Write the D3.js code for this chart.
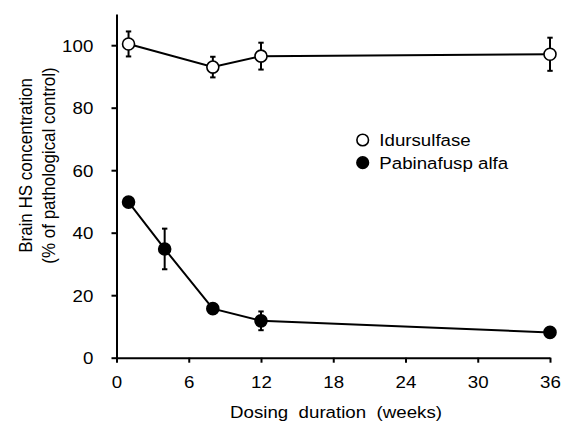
<!DOCTYPE html>
<html><head><meta charset="utf-8">
<script src="https://cdn.jsdelivr.net/npm/d3@7"></script>
<style>
html,body{margin:0;padding:0;background:#fff;}
svg{display:block;font-family:"Liberation Sans",Arial,sans-serif;}
</style></head>
<body>
<svg id="c" width="561" height="421"></svg>
<script>
// ---- data ----
const xTicks = [0, 6, 12, 18, 24, 30, 36];
const yTicks = [0, 20, 40, 60, 80, 100];
const iduWeeks = [1, 8, 12, 36];
const iduMean  = [100.4, 93.0, 96.5, 97.1];
const iduErr   = [4.0, 3.3, 4.3, 5.3];
const pabWeeks = [1, 4, 8, 12, 36];
const pabMean  = [49.8, 34.8, 15.7, 11.8, 8.1];
const pabErr   = [1.0, 6.5, 1.0, 3.0, 1.0];
const seriesNames = ["Idursulfase", "Pabinafusp alfa"];
const xTitle = "Dosing  duration  (weeks)";
const yTitle1 = "Brain HS concentration";
const yTitle2 = "(% of pathological control)";

const FS = 17, SX = 1.1;
const svg = d3.select("#c");
const x = d3.scaleLinear().domain([0, 36]).range([116.5, 550]);
const y = d3.scaleLinear().domain([0, 110]).range([357.7, 13.95]);

// axes
const gx = svg.append("g").attr("transform", `translate(0,${y(0)})`)
  .call(d3.axisBottom(x).tickValues(xTicks).tickSize(5).tickSizeOuter(0).tickFormat(d3.format("d")));
const gy = svg.append("g").attr("transform", `translate(${x(0)},0)`)
  .call(d3.axisLeft(y).tickValues(yTicks).tickSize(5).tickSizeOuter(0).tickFormat(d3.format("d")));
[gx, gy].forEach(g => {
  g.select(".domain").attr("stroke", "#000").attr("stroke-width", 2);
  g.selectAll(".tick line").attr("stroke", "#000").attr("stroke-width", 2);
  g.selectAll(".tick text").attr("fill", "#000").attr("font-size", FS)
    .attr("font-family", '"Liberation Sans",Arial,sans-serif');
});
gx.selectAll(".tick text").attr("y", 30.6).attr("dy", null)
  .attr("transform", `scale(${SX},1)`);
gy.selectAll(".tick text").attr("x", -23.2 / SX).attr("dy", "0.35em")
  .attr("transform", `scale(${SX},1)`);

// titles
svg.append("text").attr("transform", `translate(336,417.7) scale(${SX},1)`)
  .attr("text-anchor", "middle").attr("font-size", FS).style("white-space", "pre")
  .text(xTitle);
svg.append("text").attr("transform", `translate(31.5,165.5) rotate(-90) scale(1,${SX})`)
  .attr("text-anchor", "middle").attr("font-size", FS).text(yTitle1);
svg.append("text").attr("transform", `translate(55,165.5) rotate(-90) scale(1,${SX})`)
  .attr("text-anchor", "middle").attr("font-size", FS).text(yTitle2);

// series
const series = [
  {w: iduWeeks, m: iduMean, e: iduErr, fill: "#fff"},
  {w: pabWeeks, m: pabMean, e: pabErr, fill: "#000"}
];
const line = d3.line().x(d => x(d[0])).y(d => y(d[1]));
series.forEach(s => {
  const pts = s.w.map((w, i) => [w, s.m[i], s.e[i]]);
  svg.append("path").attr("d", line(pts)).attr("fill", "none")
    .attr("stroke", "#000").attr("stroke-width", 2);
  const eb = svg.append("g").attr("stroke", "#000").attr("stroke-width", 2).attr("fill", "none");
  pts.forEach(p => {
    const cx = x(p[0]), y1 = y(p[1] + p[2]), y2 = y(p[1] - p[2]);
    eb.append("line").attr("x1", cx).attr("x2", cx).attr("y1", y1).attr("y2", y2);
    eb.append("line").attr("x1", cx - 2.7).attr("x2", cx + 2.7).attr("y1", y1).attr("y2", y1);
    eb.append("line").attr("x1", cx - 2.7).attr("x2", cx + 2.7).attr("y1", y2).attr("y2", y2);
  });
  svg.append("g").selectAll("circle").data(pts).join("circle")
    .attr("cx", d => x(d[0])).attr("cy", d => y(d[1])).attr("r", 6)
    .attr("fill", s.fill).attr("stroke", "#000").attr("stroke-width", 1.6);
});

// legend
const leg = svg.append("g");
[0, 1].forEach(i => {
  const cy = 140 + i * 22.7;
  leg.append("circle").attr("cx", 362.7).attr("cy", cy).attr("r", 5.8)
    .attr("fill", series[i].fill).attr("stroke", "#000").attr("stroke-width", 1.6);
  leg.append("text").attr("transform", `translate(379.3,${cy + 6}) scale(${SX},1)`)
    .attr("font-size", FS).text(seriesNames[i]);
});
</script>
</body></html>
